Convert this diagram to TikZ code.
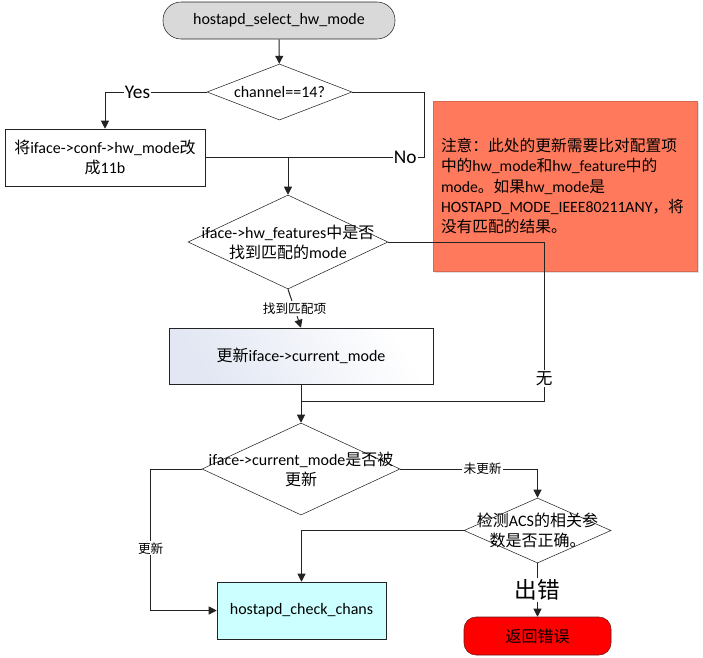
\documentclass[tikz,border=0pt]{standalone}
\usepackage{fontspec}
\setmainfont{Carlito}
\newfontfamily\zhfont{Noto Sans CJK SC}
\newcommand{\zh}[1]{{\zhfont #1}}
\usetikzlibrary{
  shapes.geometric,
  arrows.meta,
  shadows
}
\definecolor{linecolor}{RGB}{35, 35, 35}
\definecolor{startcolor}{RGB}{217, 217, 217}
\definecolor{notecolor}{RGB}{255, 122, 92}
\definecolor{updatecolor}{RGB}{226, 231, 243}
\definecolor{chanscolor}{RGB}{204, 255, 255}
\definecolor{errorcolor}{RGB}{255, 0, 0}
\definecolor{errorborder}{RGB}{110, 20, 20}
\tikzset{
blocktext/.style={
  align=center,
  font=\fontsize{12}{15}\selectfont,
  text=black
},
startblock/.style={
  draw=linecolor,
  fill=startcolor,
  rounded corners=13.5pt,
  minimum height=27.75pt,
  minimum width=174pt,
  blocktext
},
block/.style={
  draw=linecolor,
  fill=white,
  inner sep=2pt,
  minimum height=42.75pt,
  blocktext
},
decision/.style={
  diamond,
  draw=linecolor,
  fill=white,
  inner sep=0pt
},
errorblock/.style={
  draw=errorborder,
  fill=errorcolor,
  rounded corners=9pt,
  minimum height=28.5pt,
  minimum width=110.25pt,
  blocktext
},
noteblock/.style={
  fill=notecolor,
  draw=notecolor!85!black,
  line width=0.3pt,
  inner sep=0pt,
  text width=186pt,
  minimum width=198pt,
  minimum height=127.5pt,
  align=left,
  font=\fontsize{11.8}{15.2}\selectfont,
  drop shadow={shadow xshift=1.5pt, shadow yshift=-1.5pt, opacity=0.25}
},
edgelabel/.style={
  fill=white,
  inner sep=1pt,
  font=\fontsize{14.5}{16}\selectfont
},
smalllabel/.style={
  fill=white,
  inner sep=1pt,
  font=\fontsize{9.5}{12}\selectfont
},
line/.style={
  line width=0.75pt,
  draw=linecolor
},
arrow/.style={
  line,
  -{Triangle[length=6pt,width=6pt]}
}
}
\begin{document}
\begin{tikzpicture}[x=0.75pt, y=-0.75pt]
  \useasboundingbox (0,0) rectangle (703,657);

  % Blocks
  \node[startblock] (start) at (279,20.5) {hostapd\_select\_hw\_mode};
  \node[decision, minimum width=108.75pt, minimum height=42pt,
        label={[blocktext]center:{channel==14?}}] (chan) at (279.5,92) {};
  \node[block, minimum width=150pt] (setmode) at (105,157.5)
        {\zh{将}iface->conf->hw\_mode\zh{改}\\\zh{成}11b};
  \node[decision, minimum width=150pt, minimum height=70.5pt,
        label={[blocktext]center:{iface->hw\_features\zh{中是否}\\\zh{找到匹配的}mode}}] (hwdec) at (288,242) {};
  \node[block, minimum width=198pt, minimum height=42pt,
        left color=updatecolor, right color=white, shading angle=120] (update) at (301,356)
        {\zh{更新}iface->current\_mode};
  \node[decision, minimum width=148.5pt, minimum height=69pt,
        label={[blocktext]center:{iface->current\_mode\zh{是否被}\\\zh{更新}}}] (curdec) at (301,469) {};
  \node[block, fill=chanscolor, minimum width=126.75pt] (chans) at (301.5,610.5) {hostapd\_check\_chans};
  \node[decision, minimum width=110.25pt, minimum height=48.75pt,
        label={[blocktext]center:{\zh{检测}ACS\zh{的相关参}\\\zh{数是否正确。}}}] (acs) at (537.5,530.5) {};
  \node[errorblock] (err) at (537.5,636) {\zh{返回错误}};

  % Note
  \node[noteblock] (note) at (565,186)
        {\zh{注意：此处的更新需要比对配置项}\\
         \zh{中的}hw\_mode\zh{和}hw\_feature\zh{中的}\\
         mode\zh{。如果}hw\_mode\zh{是}\\
         HOSTAPD\_MODE\_IEEE80211ANY\zh{，将}\\
         \zh{没有匹配的结果。}};

  % Junctions
  \coordinate (j1) at (hwdec.north |- setmode.east);
  \coordinate (j2) at (301,401);

  % Connectors
  \draw[arrow] (start) -- (chan);
  \draw[arrow] (chan.west) -| node[edgelabel, pos=0.34] {Yes} (setmode.north);
  \draw[line] (chan.east) -- ++(72,0) |- node[edgelabel, pos=0.57] {No} (j1);
  \draw[line] (setmode.east) -- (j1);
  \draw[arrow] (j1) -- (hwdec.north);
  \draw[arrow] (hwdec.south) -- node[smalllabel] {\zh{找到匹配项}} (update.north);
  \draw[line] (hwdec.east) -- ++(156,0) |- node[edgelabel, font=\fontsize{12.5}{14}\selectfont, pos=0.43] {\zh{无}} (j2);
  \draw[line] (update.south) -- (j2);
  \draw[arrow] (j2) -- (curdec.north);
  \draw[arrow] (curdec.west) -- ++(-51,0) |- node[smalllabel, pos=0.28] {\zh{更新}} (chans.west);
  \draw[arrow] (curdec.east) -| node[smalllabel, pos=0.3] {\zh{未更新}} (acs.north);
  \draw[arrow] (acs.west) -| (chans.north);
  \draw[arrow] (acs.south) -- node[fill=white, inner sep=1pt, font=\fontsize{17}{20}\selectfont] {\zh{出错}} (err.north);
\end{tikzpicture}
\end{document}
